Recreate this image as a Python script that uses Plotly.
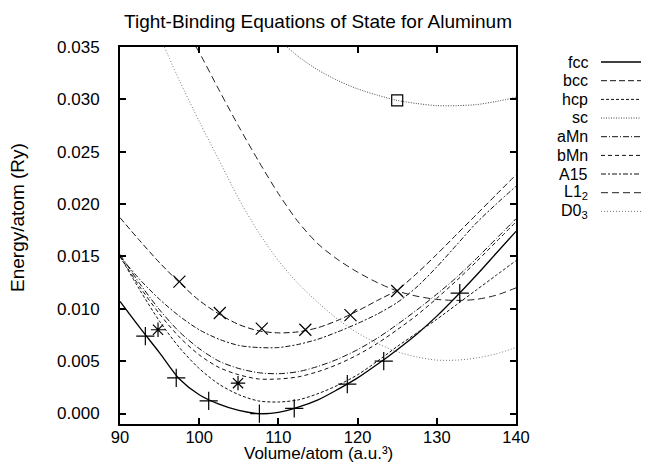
import plotly.graph_objects as go

# ---------------- data ----------------
V_GRID = [90, 92.5, 95, 97.5, 100, 102.5, 105, 107.5, 110, 112.5, 115,
          117.5, 120, 122.5, 125, 127.5, 130, 132.5, 135, 137.5, 140]

fcc_E = [0.0107, 0.0082, 0.0058, 0.0033, 0.0018, 0.0009, 0.0003, 0.0000, 0.0001, 0.0006, 0.0013,
         0.0023, 0.0034, 0.0047, 0.0061, 0.0076, 0.0093, 0.0112, 0.0132, 0.0153, 0.0174]
bcc_E = [0.0187, 0.0165, 0.0144, 0.0125, 0.0108, 0.0095, 0.0085, 0.0079, 0.0077, 0.0078, 0.0082,
         0.0089, 0.0098, 0.0108, 0.0118, 0.0134, 0.0152, 0.0171, 0.0190, 0.0209, 0.0228]
hcp_E = [0.0150, 0.0118, 0.0088, 0.0063, 0.0043, 0.0028, 0.0018, 0.0012, 0.0011, 0.0013, 0.0019,
         0.0027, 0.0037, 0.0050, 0.0064, 0.0077, 0.0090, 0.0104, 0.0118, 0.0132, 0.0146]
aMn_E = [0.0152, 0.0124, 0.0099, 0.0078, 0.0062, 0.0050, 0.0043, 0.0039, 0.0038, 0.0040, 0.0045,
         0.0052, 0.0061, 0.0072, 0.0085, 0.0099, 0.0114, 0.0130, 0.0148, 0.0167, 0.0186]
bMn_E = [0.0150, 0.0121, 0.0095, 0.0073, 0.0056, 0.0044, 0.0037, 0.0033, 0.0033, 0.0035, 0.0040,
         0.0047, 0.0056, 0.0067, 0.0080, 0.0094, 0.0110, 0.0127, 0.0145, 0.0164, 0.0183]
A15_E = [0.0150, 0.0128, 0.0109, 0.0093, 0.0080, 0.0071, 0.0065, 0.0063, 0.0063, 0.0066, 0.0071,
         0.0078, 0.0086, 0.0095, 0.0106, 0.0121, 0.0140, 0.0161, 0.0182, 0.0200, 0.0217]

L12_V = [99.6, 100, 102.5, 105, 107.5, 110, 112.5, 115, 117.5, 120, 122.5,
         125, 127.5, 130, 132.5, 135, 137.5, 140]
L12_E = [0.0350, 0.0345, 0.0309, 0.0274, 0.0241, 0.0210, 0.0183, 0.0162, 0.0147, 0.0135, 0.0125,
         0.0117, 0.0112, 0.0109, 0.0108, 0.0109, 0.0113, 0.0120]

D03_V = [95.6, 97.5, 100, 102.5, 105, 107.5, 110, 112.5, 115, 117.5, 120,
         122.5, 125, 127.5, 130, 132.5, 135, 137.5, 140]
D03_E = [0.0350, 0.0318, 0.0279, 0.0242, 0.0205, 0.0173, 0.0146, 0.0124, 0.0106, 0.0090, 0.0077,
         0.0067, 0.0059, 0.0054, 0.0051, 0.0051, 0.0053, 0.0057, 0.0063]

sc_V = [111.1, 112.5, 115, 117.5, 120, 122.5, 125, 127.5, 130, 132.5, 135, 137.5, 140]
sc_E = [0.0350, 0.0341, 0.0328, 0.0318, 0.0310, 0.0304, 0.0299, 0.0296, 0.0294, 0.0294,
        0.0295, 0.0298, 0.0302]

# reference points (markers)
plus_V = [93.2, 97.1, 101.2, 107.6, 112.0, 118.7, 123.3, 132.9]
plus_E = [0.0074, 0.0034, 0.0012, 0.0000, 0.0005, 0.0028, 0.0050, 0.0115]
cross_V = [97.5, 102.6, 107.9, 113.4, 119.1, 125.0]
cross_E = [0.0126, 0.0096, 0.0081, 0.0080, 0.0094, 0.0117]
star_V = [94.8, 104.9]
star_E = [0.0080, 0.0029]
square_V = [125.0]
square_E = [0.0299]

X_TICKS = [90, 100, 110, 120, 130, 140]
Y_TICKS = [0.000, 0.005, 0.010, 0.015, 0.020, 0.025, 0.030, 0.035]
Y_TICK_TEXT = ["0.000", "0.005", "0.010", "0.015", "0.020", "0.025", "0.030", "0.035"]

FONT = "Liberation Sans, Arial, Helvetica, sans-serif"

# (legend label, x, y, colour, width, dash)
series = [
    ("fcc", V_GRID, fcc_E, "#000000", 1.3, "solid"),
    ("bcc", V_GRID, bcc_E, "#111111", 1.0, "6px,3px"),
    ("hcp", V_GRID, hcp_E, "#111111", 1.0, "3px,2px"),
    ("sc", sc_V, sc_E, "#444444", 1.0, "1px,1.5px"),
    ("aMn", V_GRID, aMn_E, "#111111", 1.0, "6px,2px,1px,2px"),
    ("bMn", V_GRID, bMn_E, "#111111", 1.0, "4px,3px"),
    ("A15", V_GRID, A15_E, "#111111", 1.0, "5px,2px,2px,2px"),
    ("L1<sub>2</sub>", L12_V, L12_E, "#222222", 1.0, "7px,4px"),
    ("D0<sub>3</sub>", D03_V, D03_E, "#777777", 1.0, "1px,2px"),
]

fig = go.Figure()
for name, xs, ys, col, w, dash in series:
    fig.add_trace(go.Scatter(x=xs, y=ys, mode="lines", showlegend=False,
                             line=dict(color=col, width=w, dash=dash, shape="spline", smoothing=0.8)))

def add_markers(xs, ys, symbol, size):
    fig.add_trace(go.Scatter(x=xs, y=ys, mode="markers", showlegend=False,
                             marker=dict(symbol=symbol, size=size, color="#000000",
                                         line=dict(color="#000000", width=1.2))))

add_markers(plus_V, plus_E, "cross-thin", 13)
add_markers(cross_V, cross_E, "x-thin", 12)
add_markers(star_V, star_E, "asterisk", 12)
add_markers(square_V, square_E, "square-open", 11)

# ---------- layout (pixel geometry: plot area x 112..508, y 39..416) ----------
W, H = 649, 465
L, R, T, B = 112, 141, 39, 49
PW, PH = W - L - R, H - T - B

def px2paper_x(px):
    return (px - L) / PW

def py2paper_y(py):
    return (H - B - py) / PH

annotations = []
shapes = []
row_y = [54, 72.7, 91.4, 110, 128.7, 147.4, 166, 184.7, 203.4]
for (name, xs, ys, col, w, dash), py in zip(series, row_y):
    annotations.append(dict(text=name, x=px2paper_x(582), y=py2paper_y(py), xref="paper", yref="paper",
                            xanchor="right", yanchor="middle", showarrow=False,
                            font=dict(family=FONT, size=16, color="#000000")))
    shapes.append(dict(type="line", xref="paper", yref="paper",
                       x0=px2paper_x(593), x1=px2paper_x(649), y0=py2paper_y(py), y1=py2paper_y(py),
                       line=dict(color=col, width=w, dash=dash)))

annotations.append(dict(text="Energy/atom (Ry)", x=px2paper_x(9), y=py2paper_y(210), xref="paper",
                        yref="paper", textangle=-90, showarrow=False, xanchor="center", yanchor="middle",
                        font=dict(family=FONT, size=19, color="#000000")))
annotations.append(dict(text="Volume/atom (a.u.\u00b3)", x=px2paper_x(310), y=py2paper_y(446),
                        xref="paper", yref="paper", showarrow=False, xanchor="center", yanchor="middle",
                        font=dict(family=FONT, size=17, color="#000000")))

fig.update_layout(
    width=W, height=H,
    margin=dict(l=L, r=R, t=T, b=B, pad=0),
    paper_bgcolor="white", plot_bgcolor="white",
    title=dict(text="Tight-Binding Equations of State for Aluminum", x=0.5, xref="paper", xanchor="center",
               y=1 - 13 / H, yref="container", yanchor="middle",
               font=dict(family=FONT, size=19, color="#000000")),
    font=dict(family=FONT, color="#000000"),
    annotations=annotations,
    shapes=shapes,
    xaxis=dict(range=[90, 140], tickvals=X_TICKS, ticks="inside", ticklen=6, tickwidth=1.5,
               tickcolor="#000000", showline=True, linecolor="#000000", linewidth=2, mirror="ticks",
               showgrid=False, zeroline=False, tickfont=dict(family=FONT, size=16.5, color="#000000"),
               ticklabelstandoff=-3),
    yaxis=dict(range=[-0.001, 0.035], tickvals=Y_TICKS, ticktext=Y_TICK_TEXT, ticks="inside", ticklen=6,
               tickwidth=1.5, tickcolor="#000000", showline=True, linecolor="#000000", linewidth=2,
               mirror="ticks", showgrid=False, zeroline=False,
               tickfont=dict(family=FONT, size=17, color="#000000"), ticklabelstandoff=15),
)

fig.write_html("out.html")
